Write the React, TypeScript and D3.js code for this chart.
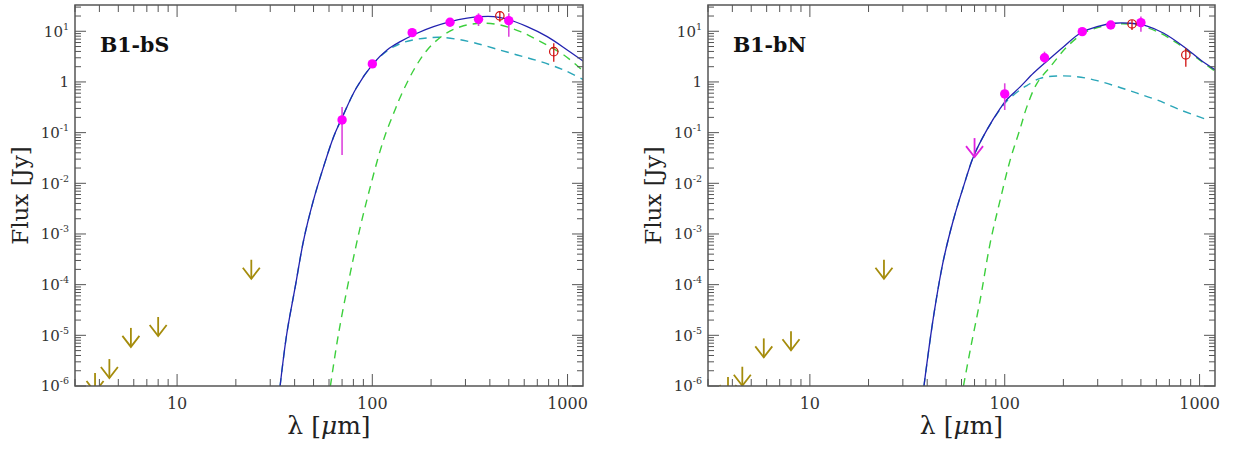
import * as d3 from 'd3';
import React from 'react';

// tick labels
const xTickLabels = [10, 100, 1000];
const yTickExps = [1, 0, -1, -2, -3, -4, -5, -6];

// ---- B1-bS ----
const bsPacsLambda = [70, 100, 160, 250, 350, 500];
const bsPacsFlux = [0.178, 2.27, 9.4, 15.1, 17.3, 16.2];
const bsPacsLow = [0.036, 2.27, 9.4, 15.1, 12.7, 7.8];
const bsPacsHigh = [0.32, 2.27, 9.4, 15.1, 22.6, 22.6];
const bsSubmmLambda = [450, 850];
const bsSubmmFlux = [20.1, 3.96];
const bsSubmmLow = [15.5, 2.5];
const bsSubmmHigh = [24.5, 5.8];
const bsIrLimLambda = [3.8, 4.5, 5.8, 8.0, 24];
const bsIrLimFlux = [1.8e-6, 3.4e-6, 1.4e-5, 2.3e-5, 3.1e-4];
const bsPacsLimLambda: number[] = [];
const bsPacsLimFlux: number[] = [];

const bsTotalLambda = [33.7, 36.5, 40.3, 44.5, 50.0, 56.3, 63.3, 69.9, 82.8, 100.8, 119, 139, 169.5, 206, 251, 306, 358, 419, 491, 621, 787, 996, 1213];
const bsTotalFlux = [1e-6, 1.1e-5, 9.1e-5, 7.6e-4, 4.7e-3, 0.0213, 0.082, 0.195, 0.76, 2.27, 4.28, 6.24, 9.15, 12.3, 15.5, 18.1, 19.4, 19.4, 17.3, 12.3, 7.83, 4.28, 2.52];
const bsWarmLambda = [33.7, 36.5, 40.3, 44.5, 50.0, 56.3, 63.3, 69.9, 82.8, 100.8, 119, 139, 163, 191, 223, 272, 331, 419, 552, 727, 957, 1213];
const bsWarmFlux = [1e-6, 1.1e-5, 9.1e-5, 7.6e-4, 4.7e-3, 0.0213, 0.082, 0.195, 0.76, 2.25, 4.1, 5.7, 6.8, 7.4, 7.6, 6.96, 5.97, 4.62, 3.41, 2.52, 1.72, 1.095];
const bsColdLambda = [61, 67.2, 77.1, 86.8, 97.7, 110, 119, 128.6, 139, 163, 191, 232, 283, 358, 453, 574, 727, 957, 1213];
const bsColdFlux = [1e-6, 1.1e-5, 1.68e-4, 1.39e-3, 8.6e-3, 0.0455, 0.113, 0.24, 0.5, 1.72, 4.28, 8.47, 12.3, 14.4, 13.3, 9.84, 6.24, 3.41, 1.6];

// ---- B1-bN ----
const bnPacsLambda = [100, 160, 250, 350, 500];
const bnPacsFlux = [0.58, 3.0, 9.84, 13.3, 14.8];
const bnPacsLow = [0.28, 2.34, 9.84, 13.3, 9.84];
const bnPacsHigh = [0.94, 3.96, 9.84, 13.3, 19.5];
const bnSubmmLambda = [450, 850];
const bnSubmmFlux = [13.95, 3.41];
const bnSubmmLow = [10.6, 2.0];
const bnSubmmHigh = [16.7, 4.6];
const bnIrLimLambda = [3.8, 4.5, 5.8, 8.0, 24];
const bnIrLimFlux = [1.5e-6, 2.4e-6, 8.7e-6, 1.2e-5, 3.1e-4];
const bnPacsLimLambda = [70];
const bnPacsLimFlux = [0.078];

const bnTotalLambda = [38.5, 43.1, 48.5, 54.5, 61.4, 69.1, 81, 94.8, 102.6, 120, 140.6, 165, 200.6, 244, 298, 363, 442, 538, 655, 830, 1012, 1208];
const bnTotalFlux = [1e-6, 2.33e-5, 3.07e-4, 1.89e-3, 8.6e-3, 0.0336, 0.113, 0.3, 0.45, 0.8, 1.5, 2.6, 4.97, 9.15, 12.3, 14.4, 14.4, 12.7, 9.15, 4.97, 2.72, 1.72];
const bnWarmLambda = [38.5, 43.1, 48.5, 54.5, 61.4, 69.1, 81, 94.8, 102.6, 120, 130, 152, 185, 235, 298, 378, 478, 606, 798, 1096];
const bnWarmFlux = [1e-6, 2.33e-5, 3.07e-4, 1.89e-3, 8.6e-3, 0.0336, 0.113, 0.29, 0.42, 0.7, 0.85, 1.18, 1.31, 1.27, 1.06, 0.81, 0.6, 0.44, 0.28, 0.18];
const bnColdLambda = [61.4, 66.5, 74.8, 84.2, 94.8, 106.7, 120, 130, 146.4, 171.4, 209, 254, 310, 378, 478, 606, 768, 973, 1208];
const bnColdFlux = [1e-6, 5.1e-6, 5e-5, 6.6e-4, 4.7e-3, 0.029, 0.12, 0.326, 0.94, 2.0, 4.97, 9.15, 12.3, 13.95, 13.3, 9.84, 5.8, 2.94, 1.6];

const FONT = '"DejaVu Serif", serif';
const AXIS = '#555';
const TEXT = '#333';

const zip = (a: number[], b: number[]) => a.map((v, i) => [v, b[i]] as [number, number]);

const Panel = (props: any) => {
  const { id, box, name, d } = props;
  const x = d3.scaleLog().domain([3, 1200]).range([box.left, box.right]);
  const y = d3.scaleLog().domain([1e-6, 33]).range([box.bottom, box.top]);
  const line = d3.line<[number, number]>()
    .x(p => x(p[0]))
    .y(p => y(p[1]))
    .curve(d3.curveCatmullRom.alpha(0.5));

  const isMajor = (v: number) => Math.abs(Math.log10(v) - Math.round(Math.log10(v))) < 1e-6;
  const xt = x.ticks();
  const yt = y.ticks();

  // downward arrow for upper limits, value at the top of the shaft
  const arrow = (lx: number, lf: number, color: string, key: string) => {
    const px = x(lx), py = y(lf);
    return (
      <g key={key} stroke={color} strokeWidth={1.8} fill="none">
        <line x1={px} y1={py} x2={px} y2={py + 19} />
        <polyline points={`${px - 8.5},${py + 8} ${px},${py + 19} ${px + 8.5},${py + 8}`} />
      </g>
    );
  };

  return (
    <g>
      <defs>
        <clipPath id={'clip-' + id}>
          <rect x={box.left} y={box.top} width={box.right - box.left} height={box.bottom - box.top} />
        </clipPath>
      </defs>
      <g clipPath={`url(#clip-${id})`}>
        <path d={line(zip(d.warmL, d.warmF)) || ''} fill="none" stroke="#2aa6b8" strokeWidth={1.4} strokeDasharray="8,6" />
        <path d={line(zip(d.coldL, d.coldF)) || ''} fill="none" stroke="#3ccf3c" strokeWidth={1.4} strokeDasharray="8,6" />
        <path d={line(zip(d.totL, d.totF)) || ''} fill="none" stroke="#2222b0" strokeWidth={1.3} />
        {d.irL.map((l: number, i: number) => arrow(l, d.irF[i], '#a58c0c', 'ir' + i))}
        {d.limL.map((l: number, i: number) => arrow(l, d.limF[i], '#e020e0', 'lim' + i))}
      </g>
      {d.pacsL.map((l: number, i: number) => (
        <g key={'p' + i}>
          <line x1={x(l)} x2={x(l)} y1={y(d.pacsLo[i])} y2={y(d.pacsHi[i])} stroke="#dd44dd" strokeWidth={1.6} />
          <circle cx={x(l)} cy={y(d.pacsF[i])} r={4.7} fill="#ff00ff" />
        </g>
      ))}
      {d.smL.map((l: number, i: number) => (
        <g key={'s' + i}>
          <line x1={x(l)} x2={x(l)} y1={y(d.smLo[i])} y2={y(d.smHi[i])} stroke="#d01010" strokeWidth={1.3} />
          <circle cx={x(l)} cy={y(d.smF[i])} r={4.2} fill="none" stroke="#d01010" strokeWidth={1.2} />
        </g>
      ))}

      {/* frame and ticks on all four sides */}
      <rect x={box.left} y={box.top} width={box.right - box.left} height={box.bottom - box.top} fill="none" stroke={AXIS} strokeWidth={1.5} />
      {xt.map((v, i) => {
        const len = isMajor(v) ? 12 : 7;
        return (
          <g key={'xt' + i} stroke={AXIS} strokeWidth={1}>
            <line x1={x(v)} x2={x(v)} y1={box.bottom} y2={box.bottom - len} />
            <line x1={x(v)} x2={x(v)} y1={box.top} y2={box.top + len} />
          </g>
        );
      })}
      {yt.map((v, i) => {
        const len = isMajor(v) ? 11 : 6;
        return (
          <g key={'yt' + i} stroke={AXIS} strokeWidth={1}>
            <line x1={box.left} x2={box.left + len} y1={y(v)} y2={y(v)} />
            <line x1={box.right} x2={box.right - len} y1={y(v)} y2={y(v)} />
          </g>
        );
      })}
      {xTickLabels.map(v => (
        <text key={'xl' + v} x={x(v)} y={box.bottom + 23} textAnchor="middle" fontFamily={FONT} fontSize={16} fill={TEXT}>{v}</text>
      ))}
      {yTickExps.map(e => (
        <text key={'yl' + e} x={box.left - 6} y={y(Math.pow(10, e))} dy="0.36em" textAnchor="end" fontFamily={FONT} fontSize={15} fill={TEXT}>
          {e === 0 ? '1' : <>10<tspan dy={-7} fontSize={9.5}>{e}</tspan></>}
        </text>
      ))}
      <text transform={`translate(${box.left - 47},${(box.top + box.bottom) / 2}) rotate(-90)`} textAnchor="middle" fontFamily={FONT} fontSize={23} fill="#222">Flux [Jy]</text>
      <text x={(box.left + box.right) / 2} y={434} textAnchor="middle" fontFamily={FONT} fontSize={25} fill="#222">
        λ [<tspan fontStyle="italic">μ</tspan>m]
      </text>
      <text x={box.left + 25} y={52} fontFamily={FONT} fontSize={20.5} fontWeight="bold" fill="#111">{name}</text>
    </g>
  );
};

export default function App() {
  const bs = {
    pacsL: bsPacsLambda, pacsF: bsPacsFlux, pacsLo: bsPacsLow, pacsHi: bsPacsHigh,
    smL: bsSubmmLambda, smF: bsSubmmFlux, smLo: bsSubmmLow, smHi: bsSubmmHigh,
    irL: bsIrLimLambda, irF: bsIrLimFlux, limL: bsPacsLimLambda, limF: bsPacsLimFlux,
    totL: bsTotalLambda, totF: bsTotalFlux, warmL: bsWarmLambda, warmF: bsWarmFlux, coldL: bsColdLambda, coldF: bsColdFlux,
  };
  const bn = {
    pacsL: bnPacsLambda, pacsF: bnPacsFlux, pacsLo: bnPacsLow, pacsHi: bnPacsHigh,
    smL: bnSubmmLambda, smF: bnSubmmFlux, smLo: bnSubmmLow, smHi: bnSubmmHigh,
    irL: bnIrLimLambda, irF: bnIrLimFlux, limL: bnPacsLimLambda, limF: bnPacsLimFlux,
    totL: bnTotalLambda, totF: bnTotalFlux, warmL: bnWarmLambda, warmF: bnWarmFlux, coldL: bnColdLambda, coldF: bnColdFlux,
  };
  return (
    <svg width={1236} height={450} style={{ position: 'absolute', left: 0, top: 0, background: '#fff' }}>
      <rect width={1236} height={450} fill="#fff" />
      <Panel id="bs" name="B1-bS" box={{ left: 75, right: 583, top: 5, bottom: 386 }} d={bs} />
      <Panel id="bn" name="B1-bN" box={{ left: 708, right: 1215, top: 5, bottom: 386 }} d={bn} />
    </svg>
  );
}
